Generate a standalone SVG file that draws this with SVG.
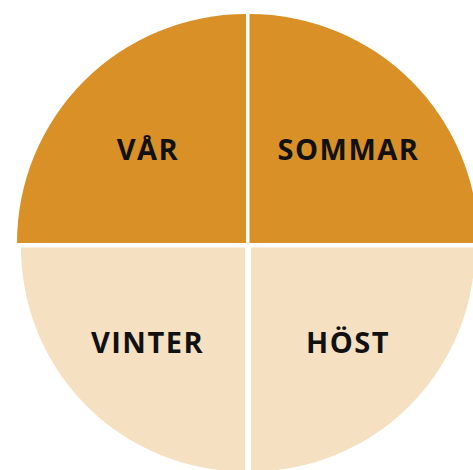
<svg xmlns="http://www.w3.org/2000/svg" width="473" height="470" viewBox="0 0 473 470">
<style>
.dark{fill:#D89027}
.light{fill:#F5E1C2}
text{font-family:"Open Sans","Noto Sans",sans-serif;font-weight:bold;font-size:29px;letter-spacing:1.5px;fill:#111;text-anchor:middle}
</style>
<rect width="473" height="470" fill="#fff"/>
<g id="var">
<path class="dark" d="M246,243 L17,243 A229,229 0 0 1 246,14 Z"/>
<text x="148" y="160">VÅR</text>
</g>
<g id="sommar">
<path class="dark" d="M249.5,243 L249.5,14 A229,229 0 0 1 478.5,243 Z"/>
<text x="348.5" y="160">SOMMAR</text>
</g>
<g id="vinter">
<path class="light" d="M245,247.5 L245,471.5 A224,224 0 0 1 21,247.5 Z"/>
<text x="147.5" y="353">VINTER</text>
</g>
<g id="host">
<path class="light" d="M251,247.5 L475,247.5 A224,224 0 0 1 251,471.5 Z"/>
<text x="348" y="353">HÖST</text>
</g>
<g id="connectors"></g>
</svg>
